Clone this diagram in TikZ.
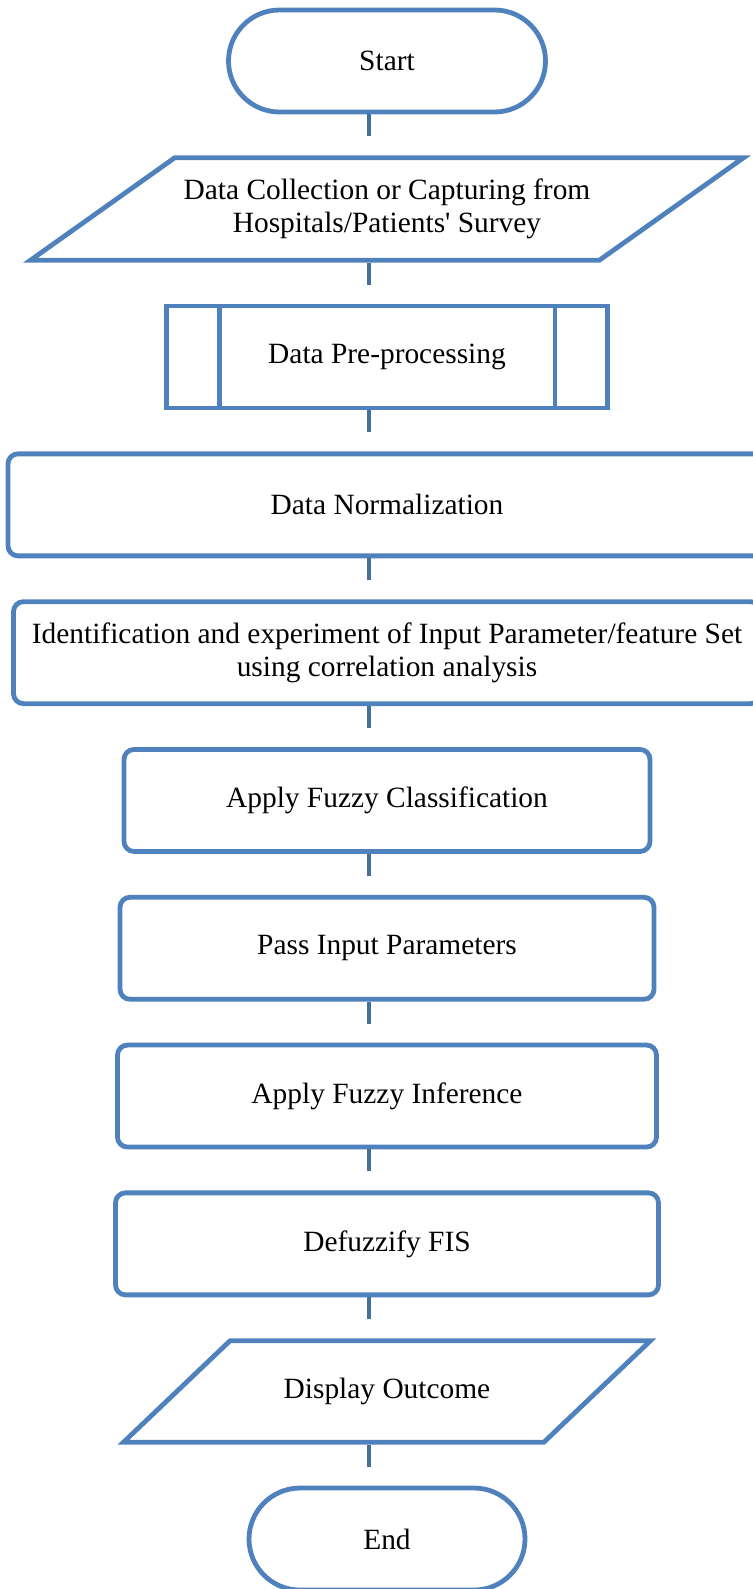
\documentclass[tikz,border=0pt]{standalone}
\usepackage{fontspec}
\setmainfont{Liberation Serif}
\usetikzlibrary{shapes.geometric,positioning}
\definecolor{boxblue}{HTML}{4F81BD}
\definecolor{lineblue}{HTML}{41719C}

\begin{document}
\begin{tikzpicture}[
  node distance=20.5pt,
  every node/.style={font=\fontsize{14.7}{16.7}\selectfont},
  terminal/.style={rectangle, rounded corners=25.5pt, draw=boxblue, line width=2.4pt,
                   minimum height=51pt, align=center},
  io/.style={trapezium, trapezium stretches body, draw=boxblue, line width=2.4pt,
             minimum height=0pt, align=center},
  proc/.style={rectangle, rounded corners=5pt, draw=boxblue, line width=2.4pt,
               minimum height=51pt, align=center},
  predef/.style={rectangle, draw=boxblue, line width=2.4pt,
                 minimum height=51pt, align=center},
  link/.style={draw=lineblue, line width=2.4pt, shorten >=9.5pt}
]
\useasboundingbox (0,0) rectangle (376.5pt,-794.5pt);

\node[terminal, minimum width=158.5pt] (start) at (193.5pt,-30.5pt) {Start};
\coordinate[xshift=-9pt] (spine) at (start.center);

\node[io, trapezium left angle=35.4, trapezium right angle=144.6, inner ysep=10.5pt,
      minimum width=356.5pt, below=of start] (collect)
     {Data Collection or Capturing from\\Hospitals/Patients\textquotesingle{} Survey};
\node[predef, minimum width=220.5pt, below=of collect] (prep) {Data Pre-processing};
\node[proc, minimum width=379pt,   below=of prep]  (norm)  {Data Normalization};
\node[proc, minimum width=373.5pt, below=of norm]  (ident)
     {Identification and experiment of Input Parameter/feature Set\\using correlation analysis};
\node[proc, minimum width=263pt,   below=of ident] (classify) {Apply Fuzzy Classification};
\node[proc, minimum width=267pt,   below=of classify] (pass) {Pass Input Parameters};
\node[proc, minimum width=269.5pt, below=of pass]  (infer)  {Apply Fuzzy Inference};
\node[proc, minimum width=271.5pt, below=of infer] (defuzz) {Defuzzify FIS};
\node[io, trapezium left angle=43.6, trapezium right angle=136.4, inner ysep=18.7pt,
      minimum width=263.5pt, below=of defuzz] (display) {Display Outcome};
\node[terminal, minimum width=138pt, below=of display] (stop) {End};

% side bars of the predefined process
\draw[draw=boxblue, line width=2.4pt]
  ([xshift=27.5pt]prep.north west) -- ([xshift=27.5pt]prep.south west)
  ([xshift=-27.5pt]prep.north east) -- ([xshift=-27.5pt]prep.south east);

% flow lines
\draw[link] (start.south -| spine)    -- (collect.north -| spine);
\draw[link] (collect.south -| spine)  -- (prep.north -| spine);
\draw[link] (prep.south -| spine)     -- (norm.north -| spine);
\draw[link] (norm.south -| spine)     -- (ident.north -| spine);
\draw[link] (ident.south -| spine)    -- (classify.north -| spine);
\draw[link] (classify.south -| spine) -- (pass.north -| spine);
\draw[link] (pass.south -| spine)     -- (infer.north -| spine);
\draw[link] (infer.south -| spine)    -- (defuzz.north -| spine);
\draw[link] (defuzz.south -| spine)   -- (display.north -| spine);
\draw[link] (display.south -| spine)  -- (stop.north -| spine);

\end{tikzpicture}
\end{document}
